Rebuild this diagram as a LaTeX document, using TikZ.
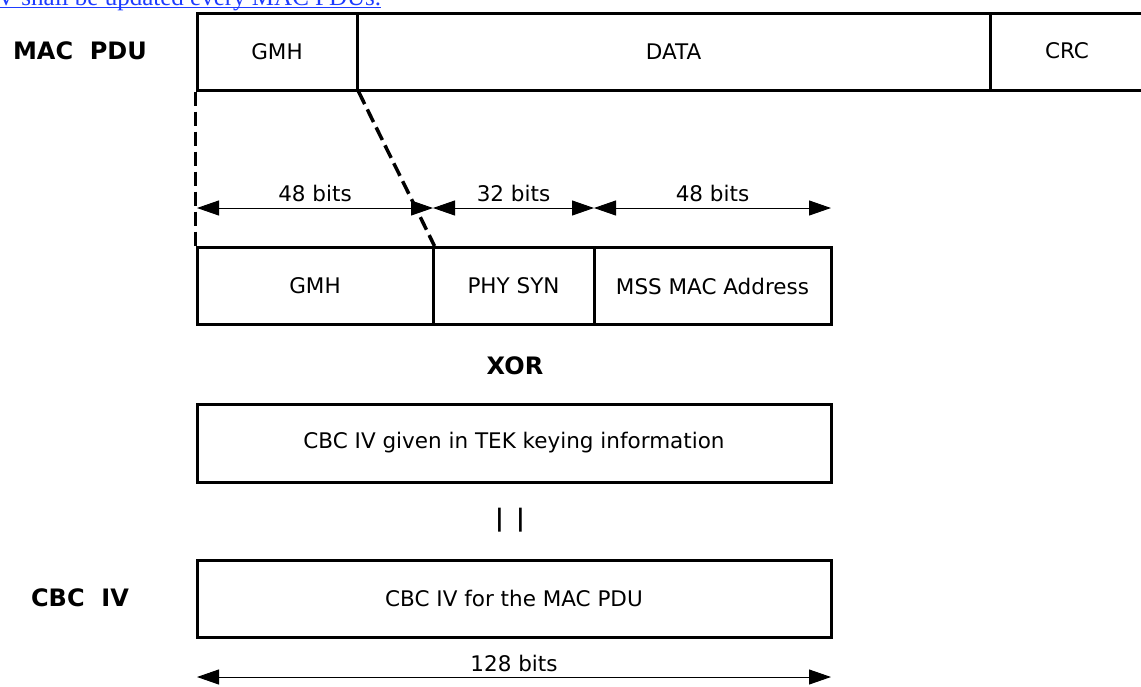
\documentclass[tikz,border=0pt]{standalone}
\usepackage{fontspec}
\setmainfont{DejaVu Sans}
\newfontfamily\serifblue{Liberation Serif}
\usetikzlibrary{arrows.meta}
\definecolor{linkblue}{RGB}{30,60,255}
\tikzset{
  cell/.style={draw, line width=3pt, minimum height=77pt, inner sep=0pt, font=\fontsize{21.5}{24}\selectfont},
  lbl/.style={font=\bfseries\fontsize{24}{28}\selectfont, inner sep=0pt},
  txt/.style={font=\fontsize{21.5}{24}\selectfont, inner sep=0pt},
  dimarrow/.style={line width=1pt, {Triangle[length=22pt,width=15pt]}-{Triangle[length=22pt,width=15pt]}},
  cut/.style={line width=3.5pt, dash pattern=on 14pt off 6pt},
}
\begin{document}
\begin{tikzpicture}[x=1pt,y=-1pt]
\useasboundingbox (0,0) rectangle (1141,686);
% blue link text, cut by the top edge as in the reference
\node[anchor=base west, inner sep=0pt, text=linkblue, font=\serifblue\fontsize{25}{28}\selectfont] (link) at (-3,5.5) {V shall be updated every MAC PDUs.};
\draw[linkblue, line width=1.6pt] ([yshift=-2pt]link.base west) -- ([yshift=-2pt]link.base east);

% MAC PDU row
\node[lbl] (macpdu) at (80,51) {MAC\ \ PDU};
\node[cell, minimum width=160pt] (gmhA) at (277,51.5) {GMH};
\node[cell, minimum width=633pt] (data) at (673.5,51.5) {DATA};
\node[cell, minimum width=170pt] (crc) at (1075,51.5) {};
\node[txt] (crclbl) at (1067,51) {CRC};

% second row
\node[cell, minimum width=236pt] (gmhB) at (315,286) {GMH};
\node[cell, minimum width=161pt] (phy) at (513.5,286) {PHY SYN};
\node[cell, minimum width=237pt] (mss) at (712.5,286) {MSS MAC Address};

% dashed projection lines
\draw[cut] (gmhA.south west) -- (gmhB.north west);
\draw[cut] (gmhA.south east) -- (gmhB.north east);

% dimension arrows
\coordinate (d0) at (197,208);
\coordinate (d1) at (433,208);
\coordinate (d2) at (594,208);
\coordinate (d3) at (831,208);
\draw[dimarrow] (d0) -- node[txt, above=6pt] (b1) {48 bits} (d1);
\draw[dimarrow] (d1) -- node[txt, above=6pt] (b2) {32 bits} (d2);
\draw[dimarrow] (d2) -- node[txt, above=6pt] (b3) {48 bits} (d3);

% XOR
\node[lbl] (xor) at (515,366) {XOR};

% CBC IV given
\node[cell, minimum width=634pt, minimum height=78pt] (tek) at (514,443) {CBC IV given in TEK keying information};

% concatenation
\node[lbl] (cat) at (510,520) {|\ \,|};

% CBC IV row
\node[lbl] (cbciv) at (80,598) {CBC\ \ IV};
\node[cell, minimum width=634pt, minimum height=77pt] (final) at (514,598.5) {CBC IV for the MAC PDU};

% 128 bits
\coordinate (e0) at (197,677);
\coordinate (e1) at (831,677);
\draw[dimarrow] (e0) -- node[txt, above=5pt] (b4) {128 bits} (e1);
\end{tikzpicture}
\end{document}
